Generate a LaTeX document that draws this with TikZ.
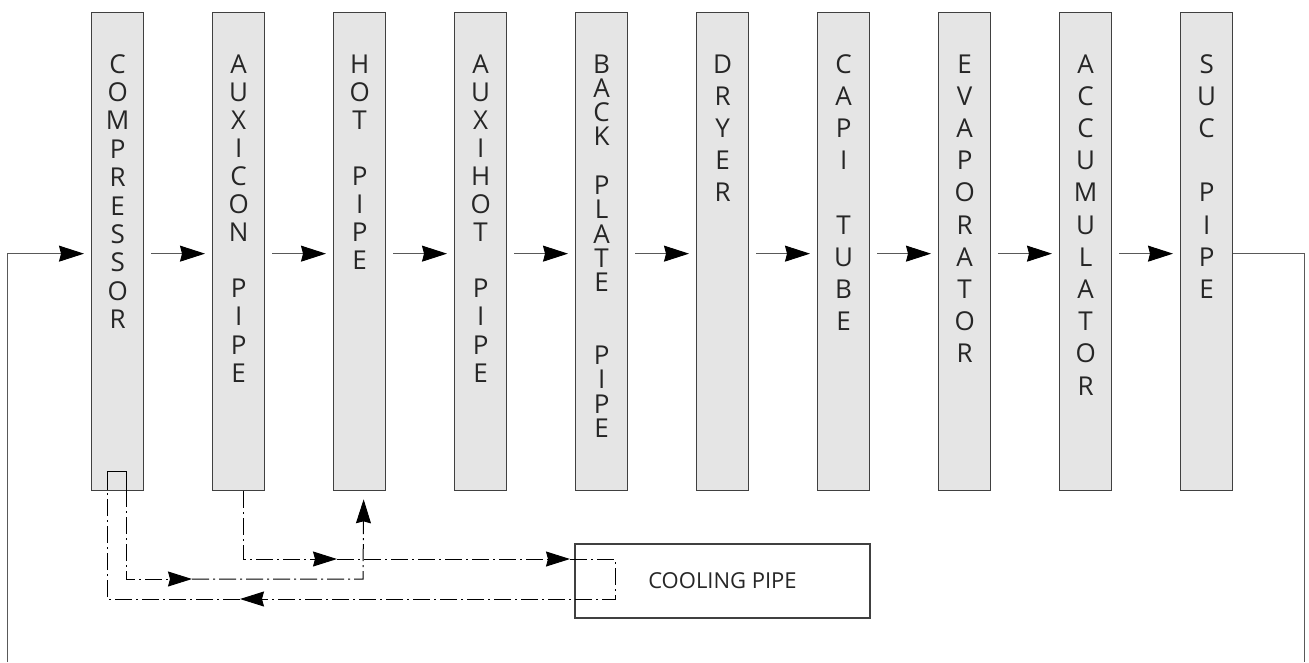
\documentclass[tikz,border=0pt]{standalone}
\usepackage{fontspec}
\setmainfont{Open Sans}
\usetikzlibrary{arrows.meta}
\begin{document}
\begin{tikzpicture}[x=1pt,y=1pt,
  part/.style={draw=black!75, line width=1.3pt, fill=black!10, minimum width=52pt, minimum height=478pt, inner sep=0pt, anchor=north west},
  lab/.style={anchor=base, inner sep=0pt, font=\fontsize{26}{26}\selectfont, text=black!85},
  flow/.style={draw=black!65, line width=1pt, -{Stealth[length=25pt,width=16pt,inset=2pt,color=black]}},
  loopline/.style={draw=black!65, line width=1pt},
  cool/.style={draw=black, line width=1pt, dash pattern=on 17pt off 4pt on 2pt off 4pt},
  tip/.style={-{Stealth[length=24pt,width=15pt,inset=2pt]}},
  coolbox/.style={draw=black!75, line width=1.3pt, fill=white, minimum width=295pt, minimum height=74pt, inner sep=0pt, font=\fontsize{22}{22}\selectfont, text=black!85}
]
\useasboundingbox (0,0) rectangle (1309,-662);

\newcommand\stackletters[3]{%
  \foreach \s [count=\i from 0] in {#3} {%
    \node[lab] (#1-\i) at ([yshift={-(61+\i*#2)}]#1.north) {\s};}}

\node[part] (comp) at (91,-12) {};
\node[part] (auxc) at (212,-12) {};
\node[part] (hot)  at (333,-12) {};
\node[part] (auxh) at (454,-12) {};
\node[part] (back) at (575,-12) {};
\node[part] (dry)  at (696,-12) {};
\node[part] (capi) at (817,-12) {};
\node[part] (evap) at (938,-12) {};
\node[part] (acc)  at (1059,-12) {};
\node[part] (suc)  at (1180,-12) {};

\stackletters{comp}{28.4}{C,O,M,P,R,E,S,S,O,R}
\stackletters{auxc}{28.1}{A,U,X,I,C,O,N,{},P,I,P,E}
\stackletters{hot}{28.1}{H,O,T,{},P,I,P,E}
\stackletters{auxh}{28.1}{A,U,X,I,H,O,T,{},P,I,P,E}
\stackletters{back}{24.3}{B,A,C,K,{},P,L,A,T,E,{},{},P,I,P,E}
\stackletters{dry}{32.2}{D,R,Y,E,R}
\stackletters{capi}{32.2}{C,A,P,I,{},T,U,B,E}
\stackletters{evap}{32.2}{E,V,A,P,O,R,A,T,O,R}
\stackletters{acc}{32.2}{A,C,C,U,M,U,L,A,T,O,R}
\stackletters{suc}{32.2}{S,U,C,{},P,I,P,E}

\foreach \a/\b in {comp/auxc,auxc/hot,hot/auxh,auxh/back,back/dry,dry/capi,capi/evap,evap/acc,acc/suc}
  \draw[flow] ([xshift=7pt,yshift=-2pt]\a.east) -- ([xshift=-7pt,yshift=-2pt]\b.west);

\coordinate (lb) at (7,-662);
\coordinate (rb) at (1304,-662);
\draw[flow] (lb) |- ([xshift=-7pt,yshift=-2pt]comp.west);
\draw[loopline] ([yshift=-2pt]suc.east) -| (rb);

\node[coolbox] (coolp) at (722.5,-581) {COOLING PIPE};

\coordinate (m1) at (337,-559);
\coordinate (cin) at (570,-559);
\coordinate (c1) at (615,-559);
\coordinate (c2) at (615,-599);
\coordinate (ret) at (240,-599);
\coordinate (r1) at (107,-599);
\coordinate (s1) at (107,-490);
\coordinate (s2) at (107,-471);
\coordinate (s3) at (126,-471);
\coordinate (s4) at (126,-490);
\coordinate (h1) at (126,-579);
\coordinate (m2) at (192,-579);
\coordinate (h2) at (363,-579);

\draw[cool,tip] ([xshift=4.5pt]auxc.south) |- (m1);
\draw[cool,tip] (m1) -- (cin);
\draw[cool,tip] (cin) -- (c1) -- (c2) -- (ret);
\draw[cool] (ret) -- (r1) -- (s1);
\draw[black, line width=1pt] (s1) -- (s2) -- (s3) -- (s4);
\draw[cool,tip] (s4) -- (h1) -- (m2);
\draw[cool,tip] (m2) -- (h2) -- ([xshift=4pt,yshift=-8pt]hot.south);
\end{tikzpicture}
\end{document}
